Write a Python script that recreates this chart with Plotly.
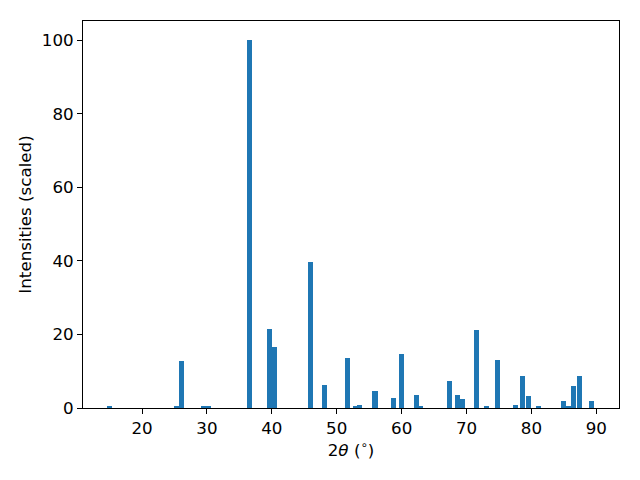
import plotly.graph_objects as go

two_theta = [15.0, 25.3, 26.06, 29.5, 30.3, 36.57, 39.65, 40.4, 46.0, 48.1,
             51.68, 52.9, 53.5, 55.9, 58.77, 60.0, 62.3, 62.9, 67.4, 68.6,
             69.3, 71.57, 73.1, 74.8, 77.6, 78.66, 79.6, 81.05, 85.0, 85.7,
             86.5, 87.4, 89.3]
intensity = [0.3, 0.3, 12.9, 0.3, 0.3, 100.0, 21.5, 16.6, 39.7, 6.3,
             13.7, 0.3, 0.9, 4.7, 2.8, 14.8, 3.6, 0.3, 7.4, 3.6,
             2.5, 21.3, 0.3, 13.1, 0.7, 8.8, 3.3, 0.4, 2.0, 0.3,
             6.1, 8.8, 2.0]

x_ticks = [20, 30, 40, 50, 60, 70, 80, 90]
y_ticks = [0, 20, 40, 60, 80, 100]

FS = 16.7

fig = go.Figure(go.Bar(x=two_theta, y=intensity, width=0.8,
                       marker=dict(color="#1f77b4", line=dict(width=0))))

axis_common = dict(showline=True, linecolor="black", linewidth=1, mirror=True,
                   ticks="outside", ticklen=5, tickwidth=1, tickcolor="black",
                   showgrid=False, zeroline=False, automargin=False,
                   tickfont=dict(family="DejaVu Sans", size=FS, color="black"))

# page body has an 8px margin, so the figure is drawn offset by 8px
fig.update_layout(
    width=632, height=472,
    margin=dict(l=75, r=21, t=13, b=72),
    paper_bgcolor="white", plot_bgcolor="white",
    showlegend=False,
    font=dict(family="DejaVu Sans", size=FS, color="black"),
    xaxis=dict(range=[10.9, 93.5], tickvals=x_ticks,
               title=dict(text="2<i>θ</i> (<sup>∘</sup>)", standoff=6,
                          font=dict(family="DejaVu Sans", size=FS)),
               **axis_common),
    yaxis=dict(range=[0, 105.2], tickvals=y_ticks,
               title=dict(text="Intensities (scaled)", standoff=5,
                          font=dict(family="DejaVu Sans", size=FS)),
               **axis_common),
    bargap=0,
)

fig.write_html("out.html")
